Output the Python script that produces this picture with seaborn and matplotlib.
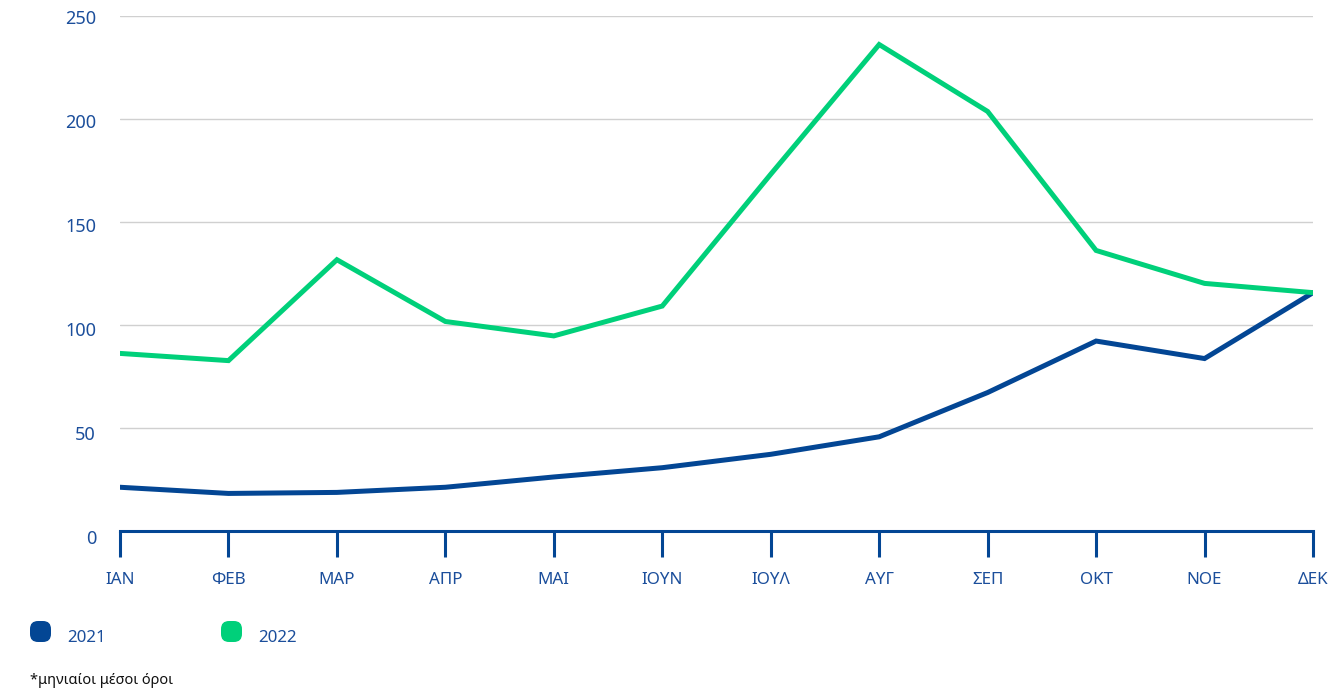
import matplotlib
matplotlib.use("Agg")
import matplotlib.pyplot as plt
from matplotlib.patches import FancyBboxPatch
import matplotlib.transforms as mtransforms
import seaborn as sns
import pandas as pd

months = ["ΙΑΝ", "ΦΕΒ", "ΜΑΡ", "ΑΠΡ", "ΜΑΙ", "ΙΟΥΝ", "ΙΟΥΛ", "ΑΥΓ", "ΣΕΠ", "ΟΚΤ", "ΝΟΕ", "ΔΕΚ"]
values_2021 = [21, 18, 18.5, 21, 26, 30.5, 37, 45.5, 67, 92, 83.5, 115.5]
values_2022 = [86, 82.5, 131.5, 101.5, 94.5, 109, 173, 236, 203.5, 136, 120, 115.5]
years = ["2021", "2022"]
yticks = [0, 50, 100, 150, 200, 250]

BLUE = "#034694"
GREEN = "#00D07A"
TEXT = "#1B4E9B"

df = pd.DataFrame({
    "month": list(range(12)) * 2,
    "value": values_2021 + values_2022,
    "year": [years[0]] * 12 + [years[1]] * 12,
})

sns.set_theme(style="white")
plt.rcParams["font.family"] = ["Noto Sans", "DejaVu Sans"]

W, H = 1335, 693
fig = plt.figure(figsize=(13.35, 6.93), dpi=100)
ax = fig.add_axes([120 / W, 1 - 530.5 / H, (1313 - 120) / W, (530.5 - 15.7) / H])

sns.lineplot(data=df, x="month", y="value", hue="year", palette={"2021": BLUE, "2022": GREEN},
             linewidth=3.6, ax=ax, legend=False, solid_capstyle="round", solid_joinstyle="miter")

ax.set_xlim(0, 11)
ax.set_ylim(0, 250)
ax.set_yticks(yticks)
ax.set_yticklabels([])
ax.set_xticks(range(12))
ax.set_xticklabels(months, color=TEXT, fontsize=12.2)
ax.grid(axis="y", color="#d0d0d0", linewidth=1.0)
ax.set_axisbelow(True)
for s in ["top", "right", "left"]:
    ax.spines[s].set_visible(False)
ax.spines["bottom"].set_color(BLUE)
ax.spines["bottom"].set_linewidth(2.2)
ax.tick_params(axis="x", direction="out", length=19, width=2.2, color=BLUE, pad=11, bottom=True)
ax.tick_params(axis="y", length=0)
ax.set_xlabel("")
ax.set_ylabel("")

# y tick labels, drawn slightly below their gridlines as in the reference
ytrans = mtransforms.blended_transform_factory(fig.transFigure, ax.transData)
for t in yticks:
    off = 8.5 - 0.022 * t
    tr = ytrans + mtransforms.ScaledTranslation(0, -off / 100, fig.dpi_scale_trans)
    ax.text(96 / W, t, str(t), transform=tr, color=TEXT, fontsize=13,
            ha="right", va="center", clip_on=False)

# custom legend
for i, (yr, col) in enumerate(zip(years, [BLUE, GREEN])):
    x0 = 30 + i * 191
    patch = FancyBboxPatch((x0 / W, 1 - 642 / H), 21 / W, 21 / H,
                           boxstyle="round,pad=0,rounding_size=0.006",
                           transform=fig.transFigure, facecolor=col, edgecolor="none",
                           mutation_aspect=W / H)
    fig.patches.append(patch)
    fig.text((x0 + 37) / W, 1 - 637.5 / H, yr, color=TEXT, fontsize=12.2, va="center", ha="left")

fig.text(30 / W, 1 - 680 / H, "*μηνιαίοι μέσοι όροι", color="#111111", fontsize=10.5, va="center", ha="left")

fig.savefig("out.png", dpi=100)
